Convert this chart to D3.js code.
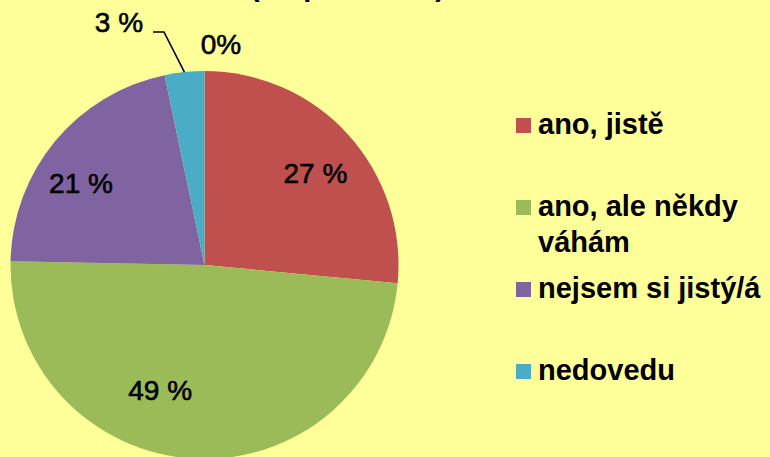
<!DOCTYPE html>
<html>
<head>
<meta charset="utf-8">
<script src="https://cdn.jsdelivr.net/npm/d3@7"></script>
<style>
  body { margin: 0; background: #ffff99; }
  svg { display: block; }
  text { font-family: "Liberation Sans", Arial, sans-serif; fill: #000; }
</style>
</head>
<body>
<svg id="chart"></svg>
<script>
// ---------- data ----------
var categories = ["ano, jistě", "ano, ale někdy váhám", "nejsem si jistý/á", "nedovedu", ""];
var values = [26.5, 48.8, 21.4, 3.3, 0];
var labelTexts = ["27 %", "49 %", "21 %", "3 %", "0%"];
var colors = ["#c0504d", "#9bbb59", "#8064a2", "#4bacc6", "#f79646"];
var title = "(respondentů)";

var width = 770, height = 457;
var cx = 204.5, cy = 265, radius = 194;

var svg = d3.select("#chart")
    .attr("width", width)
    .attr("height", height);

svg.append("rect")
    .attr("width", width)
    .attr("height", height)
    .attr("fill", "#ffff99");

// title, mostly cut off by the top edge
svg.append("text")
    .attr("x", 250)
    .attr("y", -4)
    .style("font-size", "29px")
    .style("font-weight", "bold")
    .text(title);

//-------------pie-------------------
var data = categories.map(function(c, i) {
  return {name: c, value: values[i], label: labelTexts[i], color: colors[i]};
});

var pie = d3.pie()
    .sort(null)
    .value(function(d) { return d.value; });

var arcs = pie(data);

var arc = d3.arc()
    .innerRadius(0)
    .outerRadius(radius);

var labelArc = d3.arc()
    .innerRadius(148)
    .outerRadius(148);

var edgeArc = d3.arc()
    .innerRadius(radius)
    .outerRadius(radius);

var g = svg.append("g")
    .attr("transform", "translate(" + cx + "," + cy + ")");

g.selectAll("path")
    .data(arcs)
    .enter()
    .append("path")
    .attr("d", arc)
    .attr("fill", function(d) { return d.data.color; });

// inside labels: nudge from centroid like Excel's best fit
var insideShift = [[1.5, 8], [-36, -23], [-9.5, 12.3]];
g.selectAll("text.inside")
    .data(arcs.slice(0, 3))
    .enter()
    .append("text")
    .attr("class", "inside")
    .attr("x", function(d, i) { return labelArc.centroid(d)[0] + insideShift[i][0]; })
    .attr("y", function(d, i) { return labelArc.centroid(d)[1] + insideShift[i][1]; })
    .attr("dy", "0.36em")
    .style("font-size", "28px")
    .style("stroke", "#000")
    .style("stroke-width", 0.6)
    .style("text-anchor", "middle")
    .text(function(d) { return d.data.label; });

// 3 % with leader line
var small = arcs[3];
var p0 = edgeArc.centroid(small);
var elbow = [p0[0] - 20.4, p0[1] - 40];
var p2 = [elbow[0] - 11, elbow[1]];
g.append("polyline")
    .attr("points", [p0, elbow, p2].map(function(p) { return p.join(","); }).join(" "))
    .attr("fill", "none")
    .attr("stroke", "#000")
    .attr("stroke-width", 1.5);
g.append("text")
    .attr("x", p2[0] - 10)
    .attr("y", elbow[1])
    .style("font-size", "28px")
    .style("stroke", "#000")
    .style("stroke-width", 0.6)
    .style("text-anchor", "end")
    .text(small.data.label);

// 0% slice label
var zero = arcs[4];
var z0 = edgeArc.centroid(zero);
g.append("text")
    .attr("x", z0[0] + 16.5)
    .attr("y", z0[1] - 17)
    .style("font-size", "28px")
    .style("stroke", "#000")
    .style("stroke-width", 0.6)
    .style("text-anchor", "middle")
    .text(zero.data.label);

//-------------------legend----------------
var legendData = data.filter(function(d) { return d.name !== ""; });
var ly = d3.scaleLinear()
    .domain([0, legendData.length - 1])
    .range([134, 380]);

var legend = svg.append("g")
    .selectAll("g")
    .data(legendData)
    .enter()
    .append("g")
    .attr("transform", function(d, i) { return "translate(516," + ly(i) + ")"; });

legend.append("rect")
    .attr("y", -16)
    .attr("width", 15)
    .attr("height", 15)
    .attr("fill", function(d) { return d.color; });

legend.append("text")
    .attr("x", 22)
    .style("font-size", "29px")
    .style("font-weight", "bold")
    .each(function(d) {
      // wrap to the space left of the right edge
      var t = d3.select(this);
      var words = d.name.split(" ");
      var line = [];
      var lineNo = 0;
      var tspan = t.append("tspan").attr("x", 22).attr("y", 0);
      words.forEach(function(w) {
        line.push(w);
        tspan.text(line.join(" "));
        if (tspan.node().getComputedTextLength() > 230 && line.length > 1) {
          line.pop();
          tspan.text(line.join(" "));
          line = [w];
          lineNo++;
          tspan = t.append("tspan").attr("x", 22).attr("y", lineNo * 36).text(w);
        }
      });
    });
</script>
</body>
</html>
